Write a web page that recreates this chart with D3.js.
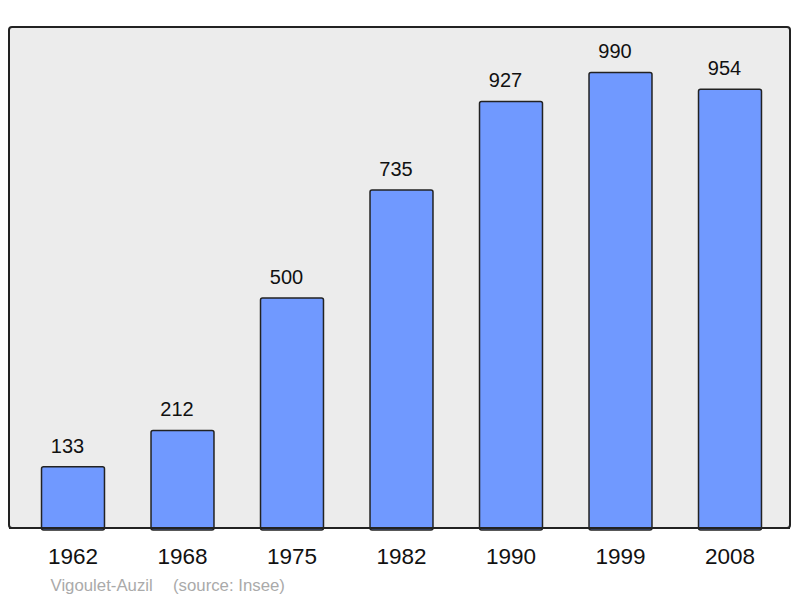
<!DOCTYPE html>
<html><head><meta charset="utf-8">
<script src="https://cdn.jsdelivr.net/npm/d3@7"></script>
<style>body{margin:0;background:#fff}svg{display:block}</style>
</head><body>
<script>
const years = ["1962","1968","1975","1982","1990","1999","2008"];
const population = [133,212,500,735,927,990,954];
const footerName = "Vigoulet-Auzil";
const footerSource = "(source: Insee)";

const W = 800, H = 598;
const svg = d3.select("body").append("svg").attr("width", W).attr("height", H);

svg.append("rect").attr("x", 9).attr("y", 27).attr("width", 781).attr("height", 501)
  .attr("rx", 3).attr("fill", "#ececec").attr("stroke", "#222").attr("stroke-width", 2);

const x = d3.scaleBand().domain(years).range([18.25, 784.75]).paddingInner(0.425).paddingOuter(0.2125);
const y = d3.scaleLinear().domain([0, 1090]).range([528, 26.6]);

svg.selectAll("rect.bar").data(population).join("rect").attr("class","bar")
  .attr("x", (d,i) => x(years[i]))
  .attr("y", d => y(d))
  .attr("width", x.bandwidth())
  .attr("height", d => y(0) - y(d) + 2)
  .attr("rx", 2)
  .attr("fill", "#7099ff").attr("stroke", "#222").attr("stroke-width", 1.5);

svg.append("line").attr("x1", 9).attr("x2", 790).attr("y1", 528).attr("y2", 528)
  .attr("stroke", "#222").attr("stroke-width", 2);

svg.selectAll("text.val").data(population).join("text").attr("class","val")
  .attr("x", (d,i) => x(years[i]) + x.bandwidth()/2 - 5.5)
  .attr("y", d => y(d) - 14.3)
  .attr("text-anchor", "middle")
  .attr("font-family", "Liberation Sans, Arial, sans-serif")
  .attr("font-size", 20).attr("fill", "#111")
  .text(d => d);

const xAxis = svg.append("g").attr("transform", "translate(0,528)")
  .call(d3.axisBottom(x).tickSize(0).tickPadding(0));
xAxis.select(".domain").remove();
xAxis.selectAll("text").attr("dy", null).attr("y", 36)
  .attr("font-family", "Liberation Sans, Arial, sans-serif")
  .attr("font-size", 22.5).attr("fill", "#111");

const foot = svg.append("text").attr("x", 50.5).attr("y", 591)
  .attr("font-family", "Liberation Sans, Arial, sans-serif")
  .attr("font-size", 16.8).attr("fill", "#aaa");
foot.append("tspan").text(footerName);
foot.append("tspan").attr("x", 173).text(footerSource);
</script>
</body></html>
